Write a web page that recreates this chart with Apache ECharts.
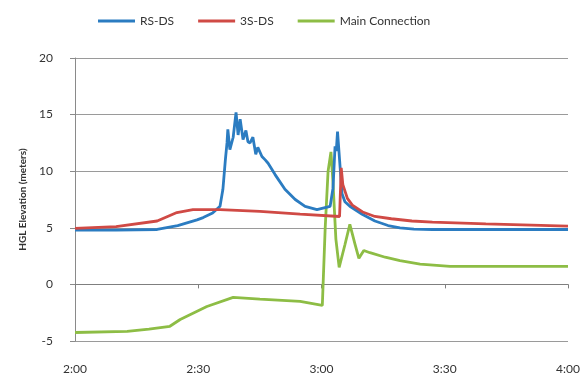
<!DOCTYPE html>
<html>
<head>
<meta charset="utf-8">
<script src="https://cdn.jsdelivr.net/npm/echarts@6/dist/echarts.min.js"></script>
<style>
  html, body { margin: 0; padding: 0; background: #fff; }
  #chart { width: 586px; height: 379px; }
</style>
</head>
<body>
<div id="chart"></div>
<script>
// Time in minutes after 2:00, HGL elevation in metres
const seriesNames = ['RS-DS', '3S-DS', 'Main Connection'];
const xTicks = ['2:00', '2:30', '3:00', '3:30', '4:00'];

const rsTime = [0, 10, 20, 25, 29.7, 31.2, 33.5, 35.3, 36, 36.6, 37, 37.2, 37.7, 38.5, 39.2, 39.7, 40.2, 40.9, 41.6, 42.1, 42.6, 43.3, 44, 44.5, 45.5, 46.3, 47, 48.7, 51.1, 53.6, 56, 58.9, 62.1, 62.8, 63.3, 63.6, 63.9, 64.4, 65, 65.7, 66.9, 69.9, 73, 76.2, 79.1, 82.5, 87, 100, 120];
const rsVals = [4.8, 4.8, 4.85, 5.2, 5.7, 5.9, 6.3, 6.9, 8.4, 11.0, 12.5, 13.7, 11.9, 13.0, 15.2, 13.2, 14.6, 12.8, 13.6, 12.6, 12.5, 13.0, 11.5, 12.1, 11.3, 11.0, 10.7, 9.7, 8.4, 7.5, 6.9, 6.6, 6.9, 8.5, 12.2, 11.8, 13.5, 11.0, 8.0, 7.3, 6.9, 6.2, 5.6, 5.2, 5.0, 4.88, 4.85, 4.85, 4.85];

const ssTime = [0, 10, 20, 24.8, 28.7, 35.3, 45, 54.8, 64.4, 64.8, 65.2, 66.3, 67.5, 70, 73, 77, 82, 87, 100, 120];
const ssVals = [4.95, 5.1, 5.6, 6.35, 6.6, 6.6, 6.45, 6.2, 6.0, 10.3, 8.8, 7.6, 7.0, 6.4, 6.0, 5.8, 5.6, 5.5, 5.35, 5.15];

const mcTime = [0, 12.7, 18, 23.1, 25.6, 32.1, 38.5, 45, 54.8, 60.2, 60.9, 61.6, 62.3, 62.8, 63.5, 64.3, 65.7, 66.9, 68.2, 69.1, 70.3, 71.8, 75.5, 79.1, 84, 91.3, 105, 120];
const mcVals = [-4.25, -4.15, -3.95, -3.7, -3.1, -1.95, -1.15, -1.3, -1.5, -1.85, 5.0, 10.0, 11.7, 9.0, 4.0, 1.5, 3.5, 5.3, 3.5, 2.3, 3.0, 2.8, 2.4, 2.1, 1.8, 1.6, 1.6, 1.6];

const colors = ['#2b7cc1', '#d04a45', '#8dbd45'];

function pairs(t, v) { return t.map((x, i) => [x, v[i]]); }

const chart = echarts.init(document.getElementById('chart'), null, { renderer: 'canvas' });
const font = 'Lato, "Open Sans", sans-serif';

chart.setOption({
  animation: false,
  color: colors,
  textStyle: { fontFamily: font },
  legend: {
    top: 10,
    left: 93,
    itemWidth: 37,
    itemHeight: 3,
    itemGap: 24,
    icon: 'rect',
    textStyle: { fontSize: 12, color: '#333', fontFamily: font },
    data: seriesNames
  },
  grid: { left: 75, right: 18, top: 58, bottom: 38 },
  xAxis: {
    type: 'value',
    min: 0, max: 120, interval: 30,
    axisLine: { show: true, lineStyle: { color: '#7f7f7f', width: 1 } },
    axisTick: { show: true, length: 4, lineStyle: { color: '#7f7f7f' } },
    splitLine: { show: false },
    axisLabel: {
      margin: 22,
      fontSize: 12,
      color: '#333',
      formatter: v => xTicks[Math.round(v / 30)]
    }
  },
  yAxis: {
    type: 'value',
    min: -5, max: 20, interval: 5,
    name: 'HGL Elevation (meters)',
    nameLocation: 'middle',
    nameGap: 46,
    nameTextStyle: { fontSize: 10, color: '#333', fontWeight: 'bold' },
    axisLine: { show: true, lineStyle: { color: '#8a8a8a', width: 1 } },
    axisTick: { show: true, length: 5, lineStyle: { color: '#8a8a8a' } },
    splitLine: { show: true, lineStyle: { color: '#9a9a9a', width: 1 } },
    axisLabel: { margin: 22, fontSize: 12, color: '#333' }
  },
  series: [
    { name: seriesNames[0], type: 'line', data: pairs(rsTime, rsVals), showSymbol: false, lineStyle: { width: 2.8 }, z: 3 },
    { name: seriesNames[1], type: 'line', data: pairs(ssTime, ssVals), showSymbol: false, lineStyle: { width: 2.8 }, z: 4 },
    { name: seriesNames[2], type: 'line', data: pairs(mcTime, mcVals), showSymbol: false, lineStyle: { width: 2.8 }, z: 2 }
  ]
});
</script>
</body>
</html>
